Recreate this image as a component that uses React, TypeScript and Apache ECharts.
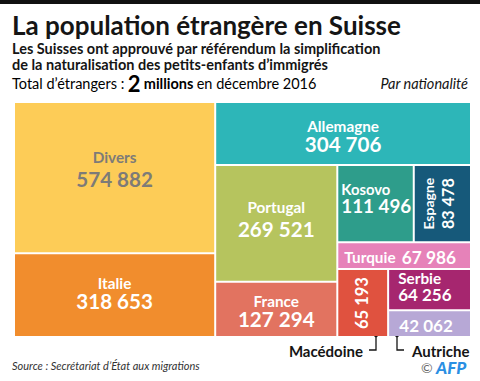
import React, { useEffect, useRef } from 'react';
import * as echarts from 'echarts';

// ---- data ----
const countries = ['Divers', 'Italie', 'Allemagne', 'Portugal', 'France', 'Kosovo', 'Espagne', 'Turquie', 'Macédoine', 'Serbie', 'Autriche'];
const populations = [574882, 318653, 304706, 269521, 127294, 111496, 83478, 67986, 65193, 64256, 42062];
const cellColors = ['#FDCC57', '#F18D2D', '#2DB6B8', '#B6C45E', '#E27360', '#2E9D8B', '#16597A', '#E682B9', '#E0523F', '#A6266F', '#B7A8D6'];
// grouping of the cells (nesting only, no values)
const grouping: any[] = ['Divers', 'Italie', ['Allemagne', ['Portugal', 'France', ['Kosovo', 'Espagne', ['Turquie', ['Macédoine', ['Serbie', 'Autriche']]]]]]];

const FONT = 'Lato';
const fmt = (v: number) => String(v).replace(/\B(?=(\d{3})+(?!\d))/g, ' ');

const rich = (nameSize: number, nameLH: number, valSize: number, valLH: number, color = '#fff', align?: string) => ({
  n: { fontSize: nameSize, lineHeight: nameLH, fontFamily: FONT, fontWeight: 'bold', color, align },
  v: { fontSize: valSize, lineHeight: valLH, fontFamily: FONT, fontWeight: 'bold', color, align },
});

// label styling per cell (mode: 'two' lines, 'inline', or 'value' only)
const labelStyles: Record<string, any> = {
  Divers: { mode: 'two', padding: [44, 0, 0, 0], rich: rich(15.3, 20, 20.6, 24, '#7d7b78') },
  Italie: { mode: 'two', padding: [21, 0, 0, 0], rich: rich(15.3, 16, 20.6, 20) },
  Allemagne: { mode: 'two', padding: [15, 0, 0, 0], rich: rich(15.3, 16, 20.6, 20) },
  Portugal: { mode: 'two', padding: [28, 0, 0, 0], rich: rich(15.3, 25, 20.6, 20) },
  France: { mode: 'two', padding: [10, 0, 0, 0], rich: rich(15.3, 16, 20.6, 20) },
  Kosovo: { mode: 'two', padding: [15, 0, 0, 3], rich: rich(14.8, 15, 18.8, 18, '#fff', 'left') },
  Espagne: { mode: 'two', rotate: 90, padding: [14, 0, 0, 0], rich: rich(14, 20, 16.2, 18) },
  Turquie: { mode: 'inline', padding: [5, 8, 0, 0], rich: rich(15.3, 18, 17.3, 18) },
  Macédoine: { mode: 'value', rotate: 90, padding: [22, 0, 0, 0], rich: rich(15, 20, 16.5, 20) },
  Serbie: { mode: 'two', padding: [0, 0, 0, 9], rich: rich(15.3, 16, 17, 16, '#fff', 'left') },
  Autriche: { mode: 'value', padding: [5, 7, 0, 0], rich: rich(15, 18, 17, 18) },
};

function buildNode(item: any): any {
  if (Array.isArray(item)) {
    return { name: '', children: item.map(buildNode) };
  }
  const i = countries.indexOf(item);
  const { mode, ...rest } = labelStyles[item];
  const val = fmt(populations[i]);
  const text = mode === 'value' ? `{v|${val}}` : mode === 'inline' ? `{n|${item}}  {v|${val}}` : `{n|${item}}\n{v|${val}}`;
  return {
    name: item,
    value: populations[i],
    itemStyle: { color: cellColors[i] },
    label: { show: true, position: 'inside', formatter: () => text, ...rest },
  };
}

const App: React.FC = () => {
  const ref = useRef<HTMLDivElement>(null);
  useEffect(() => {
    document.body.style.margin = '0';
    if (!ref.current) return;
    const chart = echarts.init(ref.current, undefined, { renderer: 'svg' });
    const treeData = grouping.map(buildNode);
    const ink = '#151515';
    chart.setOption({
      animation: false,
      backgroundColor: '#fff',
      series: [
        {
          type: 'treemap',
          left: 15,
          top: 103,
          width: 455,
          height: 233,
          roam: false,
          nodeClick: false,
          sort: false,
          breadcrumb: { show: false },
          itemStyle: { borderWidth: 0, gapWidth: 2, borderColor: '#fff' },
          label: { show: true, overflow: 'none', color: '#fff', fontFamily: FONT },
          upperLabel: { show: false },
          emphasis: { disabled: true },
          data: treeData,
        },
      ],
      graphic: [
        { type: 'rect', shape: { x: 0, y: 0, width: 480, height: 4 }, style: { fill: '#111' } },
        { type: 'text', x: 12, y: 24.5, style: { text: 'La population étrangère en Suisse', fontFamily: FONT, fontWeight: 'bold', fontSize: 26, fill: ink, verticalAlign: 'middle' } },
        { type: 'text', x: 12, y: 48.5, style: { text: 'Les Suisses ont approuvé par référendum la simplification', fontFamily: FONT, fontWeight: 'bold', fontSize: 14.5, fill: ink, verticalAlign: 'middle' } },
        { type: 'text', x: 12, y: 64, style: { text: 'de la naturalisation des petits-enfants d’immigrés', fontFamily: FONT, fontWeight: 'bold', fontSize: 14.5, fill: ink, verticalAlign: 'middle' } },
        {
          type: 'text', x: 12, y: 83,
          style: {
            text: '{a|Total d’étrangers :} {b|2} {c|millions} {a|en décembre 2016}',
            verticalAlign: 'middle',
            rich: {
              a: { fontFamily: FONT, fontSize: 14.5, color: ink },
              b: { fontFamily: FONT, fontSize: 22, fontWeight: 'bold', color: ink },
              c: { fontFamily: FONT, fontSize: 14.5, fontWeight: 'bold', color: ink },
            },
          },
        },
        { type: 'text', x: 468, y: 83, style: { text: 'Par nationalité', fontFamily: FONT, fontStyle: 'italic', fontSize: 14.5, fill: ink, align: 'right', verticalAlign: 'middle' } },
        // callouts
        { type: 'circle', shape: { cx: 376, cy: 335, r: 2.2 }, style: { fill: ink } },
        { type: 'polyline', shape: { points: [[376, 335], [376, 350], [369, 350]] }, style: { stroke: ink, lineWidth: 1.3, fill: null } },
        { type: 'text', x: 363, y: 351, style: { text: 'Macédoine', fontFamily: FONT, fontWeight: 'bold', fontSize: 15, fill: ink, align: 'right', verticalAlign: 'middle' } },
        { type: 'circle', shape: { cx: 397, cy: 335, r: 2.2 }, style: { fill: ink } },
        { type: 'polyline', shape: { points: [[397, 335], [397, 350], [404, 350]] }, style: { stroke: ink, lineWidth: 1.3, fill: null } },
        { type: 'text', x: 412, y: 351, style: { text: 'Autriche', fontFamily: FONT, fontWeight: 'bold', fontSize: 15, fill: ink, align: 'left', verticalAlign: 'middle' } },
        // source & credit
        { type: 'text', x: 12, y: 365, style: { text: 'Source : Secrétariat d’État aux migrations', fontFamily: FONT, fontStyle: 'italic', fontSize: 11, fill: '#333', verticalAlign: 'middle' } },
        { type: 'text', x: 421, y: 367, style: { text: '©', fontFamily: FONT, fontSize: 14, fill: '#666', verticalAlign: 'middle' } },
        { type: 'text', x: 436, y: 367, style: { text: 'AFP', fontFamily: FONT, fontWeight: 900, fontStyle: 'italic', fontSize: 17, fill: '#2B8FE3', verticalAlign: 'middle' } },
      ],
    });
    return () => chart.dispose();
  }, []);
  return <div ref={ref} style={{ width: 480, height: 381 }} />;
};

export default App;
